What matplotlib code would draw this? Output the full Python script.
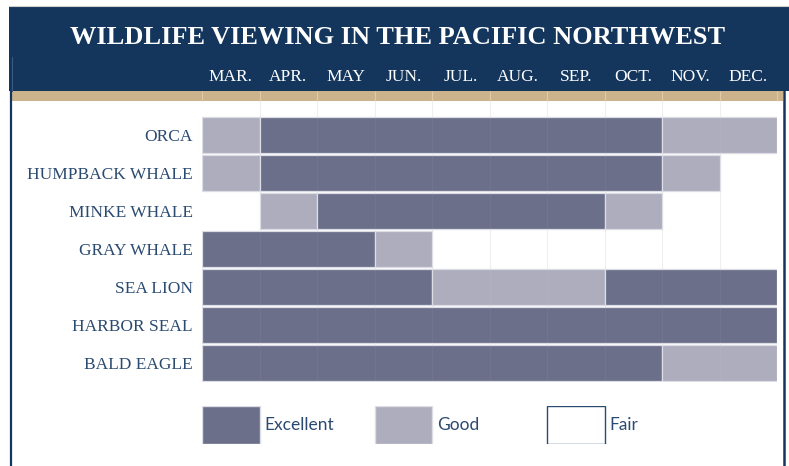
import matplotlib
matplotlib.use("Agg")
import matplotlib.pyplot as plt
import matplotlib.transforms as mtransforms
from matplotlib.patches import Rectangle
from matplotlib.lines import Line2D

# ---------------------------------------------------------------------------
# Data (0 = Fair, 1 = Good, 2 = Excellent), months Mar..Dec
# ---------------------------------------------------------------------------
MONTHS = ["MAR.", "APR.", "MAY", "JUN.", "JUL.", "AUG.", "SEP.", "OCT.", "NOV.", "DEC."]
ANIMALS = ["ORCA", "HUMPBACK WHALE", "MINKE WHALE", "GRAY WHALE",
           "SEA LION", "HARBOR SEAL", "BALD EAGLE"]

orca = [1, 2, 2, 2, 2, 2, 2, 2, 1, 1]
humpback_whale = [1, 2, 2, 2, 2, 2, 2, 2, 1, 0]
minke_whale = [0, 1, 2, 2, 2, 2, 2, 1, 0, 0]
gray_whale = [2, 2, 2, 1, 0, 0, 0, 0, 0, 0]
sea_lion = [2, 2, 2, 2, 1, 1, 1, 2, 2, 2]
harbor_seal = [2, 2, 2, 2, 2, 2, 2, 2, 2, 2]
bald_eagle = [2, 2, 2, 2, 2, 2, 2, 2, 1, 1]

STATUS = [orca, humpback_whale, minke_whale, gray_whale, sea_lion, harbor_seal, bald_eagle]
LEGEND_LABELS = ["Excellent", "Good", "Fair"]

# ---------------------------------------------------------------------------
# Style
# ---------------------------------------------------------------------------
NAVY = "#14365c"
TAN = "#cdb38b"
TEXT = "#2b4a70"
COLOR_EXC = "#6b6f8a"
COLOR_GOOD = "#aeadbe"
EDGE = "#dcdce4"
SERIF = ["Liberation Serif", "DejaVu Serif"]
SANS = ["Lato", "DejaVu Sans"]

W, H = 789, 466


def fx(px):
    return px / W


def fy(py):
    return 1 - py / H


fig = plt.figure(figsize=(W / 100, H / 100), dpi=100)
fig.patch.set_facecolor("white")

# header band, tan strip + frame
fig.add_artist(Rectangle((fx(9), fy(91)), 1 - fx(9), fy(6) - fy(91),
                         transform=fig.transFigure, facecolor=NAVY, edgecolor="none", zorder=-2))
fig.add_artist(Rectangle((fx(11), fy(101)), fx(783) - fx(11), fy(91) - fy(101),
                         transform=fig.transFigure, facecolor=TAN, edgecolor="none", zorder=-1))
fig.add_artist(Line2D([fx(9), 1], [fy(6), fy(6)], transform=fig.transFigure,
                      color="#cfcfcf", lw=0.8))
fig.add_artist(Line2D([fx(11), fx(11)], [fy(57), 0], transform=fig.transFigure,
                      color=NAVY, lw=1.6, zorder=1))
fig.add_artist(Line2D([fx(11.5), fx(11.5)], [fy(57), fy(91)], transform=fig.transFigure,
                      color="#3d5a80", lw=0.8, zorder=2))
fig.add_artist(Line2D([fx(783.5), fx(783.5)], [fy(91), 0], transform=fig.transFigure,
                      color=NAVY, lw=1.8, zorder=1))

fig.text(fx(398), fy(37), "WILDLIFE VIEWING IN THE PACIFIC NORTHWEST",
         ha="center", va="center", color="white", fontsize=19, fontweight="bold",
         family=SERIF)

# ---------------------------------------------------------------------------
# Main chart
# ---------------------------------------------------------------------------
ax = fig.add_axes([fx(202), fy(382), fx(777) - fx(202), fy(91) - fy(382)])
ax.set_xlim(0, len(MONTHS))
top = len(ANIMALS) - 0.5 - (382 - 91) / 38
strip_bottom = top + 10 / 38
ax.set_ylim(len(ANIMALS) - 0.5, top)
ax.set_facecolor("none")
for s in ax.spines.values():
    s.set_visible(False)

# faint month dividers
ax.vlines(range(0, len(MONTHS) + 1), top, strip_bottom, color="#dccaa8",
          lw=0.9, zorder=0.5, clip_on=False)
ax.vlines(range(1, len(MONTHS)), strip_bottom, len(ANIMALS) - 0.5, color="#efefef",
          lw=0.8, zorder=0.5)

colors = {1: COLOR_GOOD, 2: COLOR_EXC}
for i, row in enumerate(STATUS):
    j = 0
    while j < len(row):
        k = j
        while k + 1 < len(row) and row[k + 1] == row[j]:
            k += 1
        if row[j] > 0:
            ax.barh(i, k - j + 1, left=j, height=0.965, color=colors[row[j]],
                    edgecolor=EDGE, linewidth=0.9, zorder=2)
        j = k + 1

ax.vlines(range(1, len(MONTHS)), -0.5, len(ANIMALS) - 0.5, color="white",
          lw=0.6, alpha=0.05, zorder=3)

ax.set_xticks([])
ax.set_yticks(range(len(ANIMALS)))
ax.set_yticklabels(ANIMALS, family=SERIF, fontsize=12.5, color=TEXT)
ax.tick_params(axis="y", length=0, pad=6.5)

trans = mtransforms.blended_transform_factory(ax.transData, fig.transFigure)
for j, m in enumerate(MONTHS):
    ax.text(j + 0.5, fy(77), m, transform=trans, ha="center", va="center",
            color="white", fontsize=12.5, family=SERIF, clip_on=False)

# ---------------------------------------------------------------------------
# Legend
# ---------------------------------------------------------------------------
lax = fig.add_axes([fx(202), fy(444), fx(777) - fx(202), fy(406) - fy(444)])
lax.set_xlim(0, len(MONTHS))
lax.set_ylim(0, 1)
lax.axis("off")
leg_colors = [COLOR_EXC, COLOR_GOOD, "white"]
leg_edges = [EDGE, EDGE, TEXT]
for n, (lab, fc, ec) in enumerate(zip(LEGEND_LABELS, leg_colors, leg_edges)):
    x0 = n * 3
    lax.add_patch(Rectangle((x0, 0), 1, 1, facecolor=fc, edgecolor=ec, lw=1.0))
    lax.text(x0 + 1 + 5 / 57.5, 0.5, lab, ha="left", va="center", color=TEXT,
             fontsize=12.5, family=SANS)

fig.savefig("out.png", dpi=100)
